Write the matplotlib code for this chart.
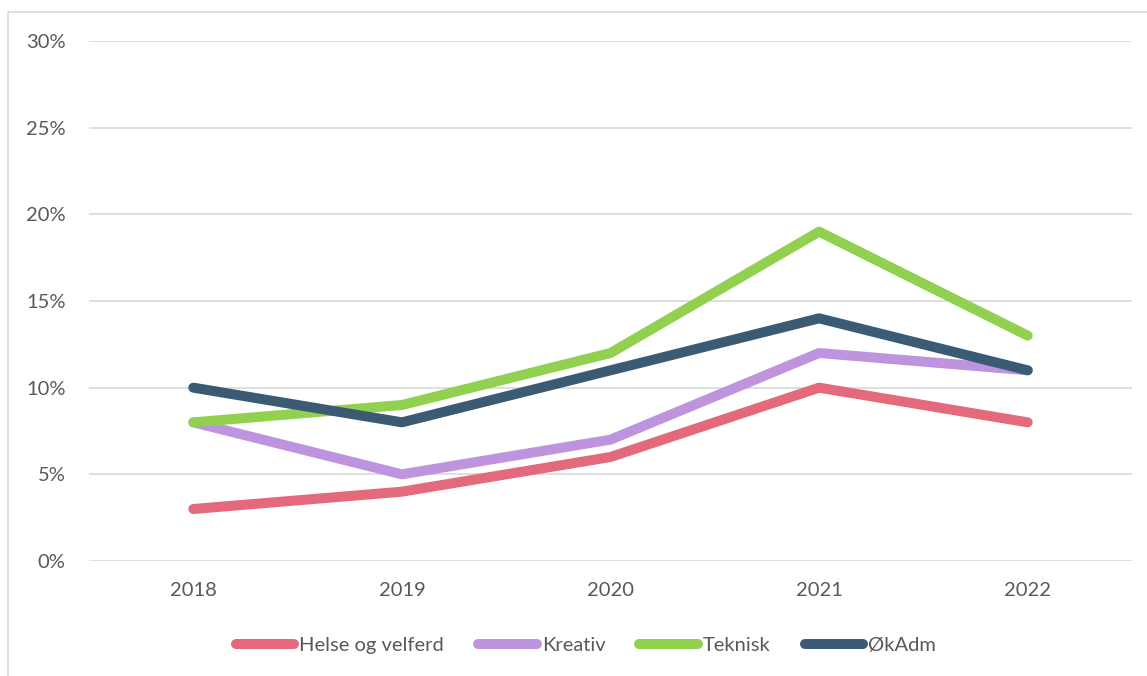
import matplotlib
matplotlib.use("Agg")
import matplotlib.pyplot as plt
from matplotlib.patches import Rectangle
from matplotlib.ticker import FuncFormatter

years = ["2018", "2019", "2020", "2021", "2022"]
helse = [3, 4, 6, 10, 8]
kreativ = [8, 5, 7, 12, 11]
teknisk = [8, 9, 12, 19, 13]
okadm = [10, 8, 11, 14, 11]
series_names = ["Helse og velferd", "Kreativ", "Teknisk", "ØkAdm"]
colors = ["#E4697B", "#BE94DE", "#92D050", "#3B5B75"]
yticks = [0, 5, 10, 15, 20, 25, 30]

plt.rcParams['font.family'] = ['Lato', 'DejaVu Sans']

W, H = 1147, 676
fig = plt.figure(figsize=(W / 100, H / 100), dpi=100)
fig.patches.append(Rectangle((8 / W, -0.1), 1.2, 1 - 12 / H + 0.1,
                             transform=fig.transFigure, fill=False,
                             edgecolor="#D9D9D9", linewidth=1.2))

ax = fig.add_axes([89 / W, 1 - 561 / H, (1132 - 89) / W, (561 - 41) / H])
x = list(range(len(years)))
for vals, name, c in zip([helse, kreativ, teknisk, okadm], series_names, colors):
    ax.plot(x, vals, color=c, linewidth=7.2, solid_capstyle="round",
            solid_joinstyle="round", label=name, zorder=3)

ax.set_xlim(-0.5, len(years) - 0.5)
ax.set_ylim(0, 30)
ax.set_yticks(yticks)
ax.yaxis.set_major_formatter(FuncFormatter(lambda v, p: f"{int(v)}%"))
ax.set_xticks(x)
ax.set_xticklabels(years)
ax.grid(axis="y", color="#D9D9D9", linewidth=1.2)
ax.set_axisbelow(True)
for s in ax.spines.values():
    s.set_visible(False)
ax.tick_params(axis="both", length=0, labelsize=14.5, colors="#595959")
ax.tick_params(axis="y", pad=17)
ax.tick_params(axis="x", pad=15)

leg = fig.legend(loc="center", bbox_to_anchor=(586 / W, 1 - 645 / H), ncol=4,
                 frameon=False, fontsize=14.5, handlelength=2.9,
                 handletextpad=0.25, columnspacing=1.7)
for t in leg.get_texts():
    t.set_color("#595959")

fig.savefig("out.png", dpi=100, facecolor="white")
